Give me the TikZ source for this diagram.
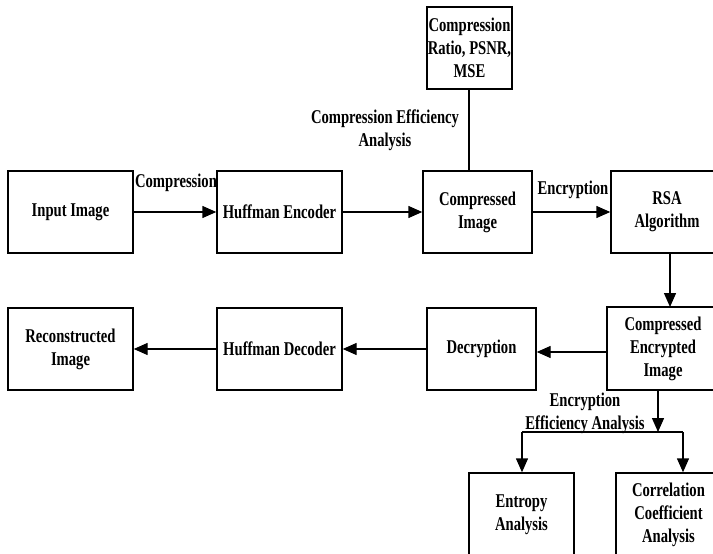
\documentclass[tikz,border=0pt]{standalone}
\usepackage{fontspec}
\setmainfont{Liberation Serif}[FakeStretch=0.75]
\usetikzlibrary{arrows.meta}
\begin{document}
\begin{tikzpicture}[x=1pt,y=-1pt,
  box/.style={draw, line width=1.4pt, align=center, inner sep=0pt},
  lbl/.style={align=center, inner sep=0pt},
  conn/.style={line width=1.4pt},
  arr/.style={conn, -{Triangle[length=14pt,width=12pt]}},
  every node/.style={font=\fontsize{19.5}{23}\selectfont\bfseries}]
\useasboundingbox (0,0) rectangle (713,554);
\clip (0,0) rectangle (713,554);
\node[box, minimum width=125pt, minimum height=82pt] (in) at (70.5,212) {Input Image};
\node[box, minimum width=125pt, minimum height=82pt] (enc) at (279.5,212) {Huffman Encoder};
\node[box, minimum width=109pt, minimum height=82pt] (cimg) at (477.5,212) {Compressed\\Image};
\node[box, minimum width=85pt, minimum height=82pt] (ratio) at (469.5,48) {Compression\\Ratio, PSNR,\\MSE};
\node[box, minimum width=112pt, minimum height=82pt] (rsa) at (667,212) {RSA\\Algorithm};
\node[box, minimum width=112pt, minimum height=83pt] (cei) at (663,348.5) {Compressed\\Encrypted\\Image};
\node[box, minimum width=109pt, minimum height=82pt] (dec) at (481.5,349) {Decryption};
\node[box, minimum width=125pt, minimum height=82pt] (hdec) at (279.5,349) {Huffman Decoder};
\node[box, minimum width=125pt, minimum height=82pt] (rec) at (70.5,349) {Reconstructed\\Image};
\node[box, minimum width=105pt, minimum height=84pt] (ent) at (521.5,515) {Entropy\\Analysis};
\node[box, minimum width=105pt, minimum height=84pt] (cor) at (668.5,515) {Correlation\\Coefficient\\Analysis};
\node[lbl] (l1) at (176,183) {Compression};
\node[lbl] (l2) at (573,190) {Encryption};
\node[lbl] (l3) at (385,130) {Compression Efficiency\\Analysis};
\node[lbl] (l4) at (585,413) {Encryption\\Efficiency Analysis};
\coordinate (j) at (658,432);
\coordinate (jl) at (522,432);
\coordinate (jr) at (683,432);
\draw[arr] (in) -- (enc);
\draw[arr] (enc) -- (cimg);
\draw[arr] (cimg) -- (rsa);
\draw[conn] (469,89) -- (469,171);
\draw[arr] (670,253) -- (670,307);
\draw[arr] (cei.west |- 0,352) -- (dec.east |- 0,352);
\draw[arr] (dec) -- (hdec);
\draw[arr] (hdec) -- (rec);
\draw[arr] (j |- cei.south) -- (j);
\draw[conn] (jl) -- (jr);
\draw[arr] (jl) -- (jl |- ent.north);
\draw[arr] (jr) -- (jr |- cor.north);
\end{tikzpicture}
\end{document}
